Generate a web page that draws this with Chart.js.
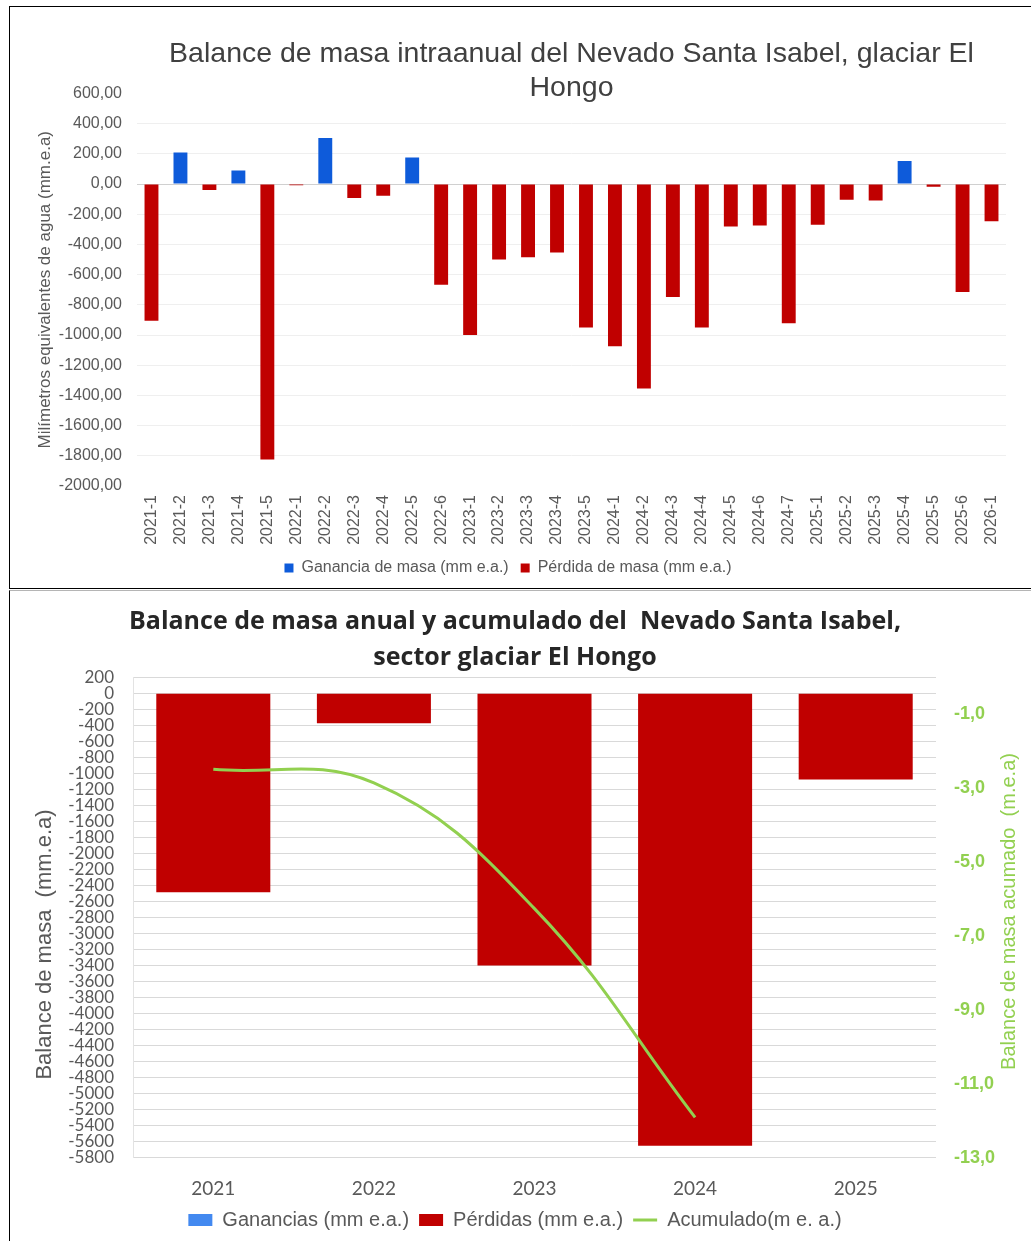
<!DOCTYPE html>
<html><head><meta charset="utf-8">
<script src="https://cdn.jsdelivr.net/npm/chart.js@4/dist/chart.umd.min.js"></script>
<style>
html,body{margin:0;padding:0;background:#fff}
body{width:1031px;height:1241px;overflow:hidden;position:relative}
#f1{position:absolute;left:9px;top:6px;width:1040px;height:581px;border:1.5px solid #000}
#f2{position:absolute;left:9px;top:590px;width:1040px;height:660px;border-left:1.5px solid #000;border-top:1.5px solid #b5b5b5}
.c{position:absolute}
</style></head><body>
<div id="f1"></div><div id="f2"></div>
<div class="c" style="left:10px;top:7px;width:1021px;height:581px"><canvas id="c1"></canvas></div>
<div class="c" style="left:10px;top:592px;width:1010px;height:649px"><canvas id="c2"></canvas></div>
<script>
// ---------- Data: intra-annual chart ----------
const periods = ['2021-1','2021-2','2021-3','2021-4','2021-5',
  '2022-1','2022-2','2022-3','2022-4','2022-5','2022-6',
  '2023-1','2023-2','2023-3','2023-4','2023-5',
  '2024-1','2024-2','2024-3','2024-4','2024-5','2024-6','2024-7',
  '2025-1','2025-2','2025-3','2025-4','2025-5','2025-6','2026-1'];
const massGain = [null,208,null,90,null, null,305,null,null,175,null,
  null,null,null,null,null, null,null,null,null,null,null,null,
  null,null,null,152,null,null,null];
const massLoss = [-905,null,-40,null,-1825, -8,null,-92,-77,null,-667,
  -1000,-500,-485,-453,-950, -1075,-1355,-748,-950,-282,-275,-922,
  -270,-105,-110,null,-18,-715,-247];
const topTicks = [600,400,200,0,-200,-400,-600,-800,-1000,-1200,-1400,-1600,-1800,-2000];

// ---------- Data: annual chart ----------
const years = ['2021','2022','2023','2024','2025'];
const annualGain = [null,null,null,null,null];
const annualLoss = [-2485,-375,-3400,-5650,-1075];
const cumulative = [-2.49,-2.86,-6.26,-11.91,null];
const leftTicks = [200,0,-200,-400,-600,-800,-1000,-1200,-1400,-1600,-1800,-2000,-2200,-2400,-2600,-2800,-3000,-3200,-3400,-3600,-3800,-4000,-4200,-4400,-4600,-4800,-5000,-5200,-5400,-5600,-5800];
const rightTicks = [-1,-3,-5,-7,-9,-11,-13];

const ARIAL = "'Liberation Sans', Arial, sans-serif";
const CAL = "Lato, 'Open Sans', sans-serif";
Chart.defaults.animation = false;

// Draws rotated (bottom-to-top) axis titles next to a scale, centred on the plot area with an optional shift.
const axisTitles = {
  id: 'axisTitles',
  afterDraw(chart, args, opts) {
    const ctx = chart.ctx, ca = chart.chartArea;
    (opts.items || []).forEach(it => {
      const s = chart.scales[it.scale];
      ctx.save();
      ctx.font = `${it.size}px ${it.family}`;
      ctx.fillStyle = it.color;
      ctx.textAlign = 'center';
      ctx.textBaseline = 'middle';
      const x = it.side === 'right' ? s.right - it.offset : s.left + it.offset;
      ctx.translate(x, (ca.top + ca.bottom) / 2 + it.shift);
      ctx.rotate(-Math.PI / 2);
      ctx.fillText(it.text, 0, 0);
      ctx.restore();
    });
  }
};

new Chart(document.getElementById('c1'), {
  type: 'bar',
  data: {
    labels: periods,
    datasets: [
      {label: 'Ganancia de masa (mm e.a.)', data: massGain, backgroundColor: '#0E5BDA', grouped: false,
       barPercentage: 0.48, categoryPercentage: 1},
      {label: 'Pérdida de masa (mm e.a.)', data: massLoss, backgroundColor: '#C00000', grouped: false,
       barPercentage: 0.48, categoryPercentage: 1}
    ]
  },
  options: {
    responsive: true, maintainAspectRatio: false,
    layout: {padding: {left: 0, right: 25, top: 0, bottom: 2}},
    plugins: {
      tooltip: {enabled: false},
      title: {display: true, fullSize: false,
        text: ['Balance de masa intraanual del Nevado Santa Isabel, glaciar El', 'Hongo'],
        color: '#404040', font: {family: ARIAL, size: 28.5, weight: 'normal', lineHeight: 1.2},
        padding: {top: 30, bottom: -12}},
      legend: {position: 'bottom',
        labels: {boxWidth: 9, boxHeight: 9, padding: 12, color: '#595959', font: {family: ARIAL, size: 16}}}
    },
    scales: {
      x: {
        grid: {display: false, drawTicks: false}, border: {display: false},
        ticks: {minRotation: 90, maxRotation: 90, autoSkip: false, padding: 9, color: '#595959', font: {family: ARIAL, size: 16}},
        afterFit: s => { s.height = 62; }
      },
      y: {
        min: -2000, max: 600,
        afterBuildTicks: s => { s.ticks = topTicks.map(v => ({value: v})); },
        afterFit: s => { s.width = 127; },
        border: {display: false},
        grid: {drawTicks: false,
          color: c => (c.tick && c.tick.value === 0) ? '#D0D0D0' : ((c.tick && (c.tick.value === 600 || c.tick.value === -2000)) ? 'rgba(0,0,0,0)' : '#EFEFEF')},
        ticks: {padding: 15, color: '#595959', font: {family: ARIAL, size: 16},
          callback: v => v.toFixed(2).replace('.', ',')},
        title: {display: true, text: 'Milímetros equivalentes de agua (mm.e.a)', color: '#595959',
          font: {family: ARIAL, size: 17}, padding: {top: 25, bottom: 0}}
      }
    }
  }
});

new Chart(document.getElementById('c2'), {
  type: 'bar',
  plugins: [axisTitles],
  data: {
    labels: years,
    datasets: [
      {type: 'bar', label: 'Ganancias (mm e.a.)', data: annualGain, backgroundColor: '#4389F0', grouped: false,
       barPercentage: 0.71, categoryPercentage: 1, pointStyle: 'rect', yAxisID: 'y', order: 2},
      {type: 'bar', label: 'Pérdidas (mm e.a.)', data: annualLoss, backgroundColor: '#C00000', grouped: false,
       barPercentage: 0.71, categoryPercentage: 1, pointStyle: 'rect', yAxisID: 'y', order: 1},
      {type: 'line', label: 'Acumulado(m e. a.)', data: cumulative, borderColor: '#92D050', backgroundColor: '#92D050',
       borderWidth: 3, pointRadius: 0, pointStyle: 'line', tension: 0.4, yAxisID: 'y1', order: 0}
    ]
  },
  options: {
    responsive: true, maintainAspectRatio: false,
    layout: {padding: {left: 0, right: 0, top: 0, bottom: 1}},
    plugins: {
      tooltip: {enabled: false},
      title: {display: true,
        text: ['Balance de masa anual y acumulado del  Nevado Santa Isabel,', 'sector glaciar El Hongo'],
        color: '#262626', font: {family: "'Open Sans', Lato, sans-serif", size: 25, weight: 'bold', lineHeight: 1.44},
        padding: {top: 12, bottom: 1.3}},
      legend: {position: 'bottom',
        labels: {usePointStyle: true, pointStyleWidth: 24, boxHeight: 12, padding: 10,
          color: '#595959', font: {family: ARIAL, size: 20},
          sort: (a, b) => a.datasetIndex - b.datasetIndex}},
      axisTitles: {items: [
        {scale: 'y', side: 'left', offset: 35, shift: 27, text: 'Balance de masa  (mm.e.a)', color: '#595959', size: 22, family: ARIAL},
        {scale: 'y1', side: 'right', offset: 11, shift: -6, text: 'Balance de masa acumado  (m.e.a)', color: '#92D050', size: 20, family: ARIAL}
      ]}
    },
    scales: {
      x: {
        grid: {display: false, drawTicks: false}, border: {display: false},
        ticks: {padding: 20, color: '#595959', font: {family: CAL, size: 19}},
        afterFit: s => { s.height = 42.3; }
      },
      y: {
        position: 'left', min: -5800, max: 200,
        afterBuildTicks: s => { s.ticks = leftTicks.map(v => ({value: v})); },
        afterFit: s => { s.width = 123; },
        border: {display: true, color: '#E3E3E3'},
        grid: {drawTicks: false, color: '#D9D9D9', lineWidth: 1},
        ticks: {padding: 19, color: '#595959', font: {family: CAL, size: 17}, autoSkip: false,
          callback: v => String(v)}
      },
      y1: {
        position: 'right', min: -13, max: 0,
        afterBuildTicks: s => { s.ticks = rightTicks.map(v => ({value: v})); },
        afterFit: s => { s.width = 84; },
        border: {display: false},
        grid: {display: false, drawTicks: false},
        ticks: {padding: 18, color: '#92D050', font: {family: ARIAL, size: 18, weight: 'bold'},
          callback: v => v.toFixed(1).replace('.', ',')}
      }
    }
  }
});
</script>
</body></html>
